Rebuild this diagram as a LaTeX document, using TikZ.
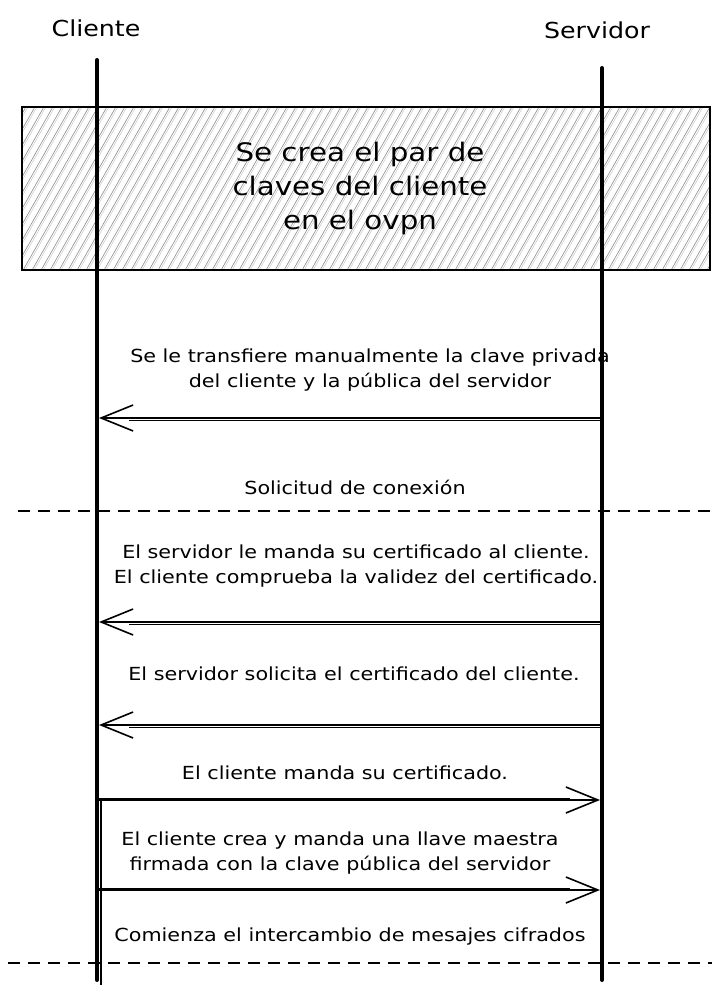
\documentclass[tikz,border=0pt]{standalone}
\usepackage{fontspec}
\setmainfont[FakeStretch=1.15]{DejaVu Sans}
\usetikzlibrary{arrows.meta,calc}
\begin{document}
\begin{tikzpicture}[x=1pt,y=-1pt,
  lifeline/.style={line width=4pt,line cap=round},
  thinline/.style={line width=0.9pt},
  msgarrow/.style={line width=1.6pt,-{Straight Barb[length=32pt,width=26pt,line width=1.6pt]}},
  sep/.style={line width=2pt,dash pattern=on 12pt off 8pt},
  msg/.style={font=\fontsize{18}{25.5}\selectfont,align=center,inner sep=0pt},
  actor/.style={font=\fontsize{22}{26}\selectfont,inner sep=0pt},
  boxtext/.style={font=\fontsize{25.5}{34}\selectfont,align=center,inner sep=0pt},
  hatch/.style={draw=black!45,line width=0.6pt}]
\useasboundingbox (0,0) rectangle (722,990);

% actors
\node[actor] (cli) at (96,28) {Cliente};
\node[actor] (srv) at (597,30) {Servidor};

% hatched box
\begin{scope}
  \clip (22,107) rectangle (710,270);
  \foreach \i in {0,9,...,918} {
    \draw[hatch] (\i-95,272) -- (\i,105);
    \draw[hatch,black!22,line width=0.5pt] (\i-93,272) -- (\i+2,105);
  }
\end{scope}
\node[draw,line width=2.2pt,minimum width=688pt,minimum height=163pt,inner sep=0pt] (box) at (366,188.5) {};
\node[boxtext] (boxt) at (360,188) {Se crea el par de\\claves del cliente\\en el ovpn};

% lifelines
\coordinate (c0) at (97,60);
\coordinate (cE) at (97,980);
\coordinate (s0) at (602,68);
\coordinate (sE) at (602,980);
\draw[lifeline] (c0) -- (cE);
\draw[lifeline] (s0) -- (sE);
\coordinate (c0b) at (101,800);
\coordinate (cEb) at (101,985);
\draw[thinline,line width=1.4pt] (c0b) -- (cEb);

% message coordinates
\coordinate (s1) at (600,418); \coordinate (c1) at (99,418);
\coordinate (s2) at (600,622); \coordinate (c2) at (99,622);
\coordinate (s3) at (600,725); \coordinate (c3) at (99,725);
\coordinate (c4) at (99,800); \coordinate (s4) at (600,800);
\coordinate (c5) at (99,890); \coordinate (s5) at (600,890);

% messages
\node[msg] (t1) at (370,370) {Se le transfiere manualmente la clave privada\\del cliente y la pública del servidor};
\draw[msgarrow] (s1) -- (c1);
\draw[thinline] ($(s1)+(0,2)$) -- ($(c1)+(30,2)$);

\node[msg] (t0) at (355,487) {Solicitud de conexión};
\coordinate (d1a) at (18,511); \coordinate (d1b) at (712,511);
\draw[sep] (d1a) -- (d1b);

\node[msg] (t2) at (356,566) {El servidor le manda su certificado al cliente.\\El cliente comprueba la validez del certificado.};
\draw[msgarrow] (s2) -- (c2);
\draw[thinline] ($(s2)+(0,2)$) -- ($(c2)+(30,2)$);

\node[msg] (t3) at (354,674) {El servidor solicita el certificado del cliente.};
\draw[msgarrow] (s3) -- (c3);
\draw[thinline] ($(s3)+(0,2)$) -- ($(c3)+(30,2)$);

\node[msg] (t4) at (345,773) {El cliente manda su certificado.};
\draw[msgarrow] (c4) -- (s4);
\draw[thinline] ($(c4)+(0,-2)$) -- ($(s4)+(-30,-2)$);

\node[msg] (t5) at (340,853) {El cliente crea y manda una llave maestra\\firmada con la clave pública del servidor};
\draw[msgarrow] (c5) -- (s5);
\draw[thinline] ($(c5)+(0,-2)$) -- ($(s5)+(-30,-2)$);

\node[msg] (t6) at (350,937) {Comienza el intercambio de mesajes cifrados};
\coordinate (d2a) at (8,963); \coordinate (d2b) at (712,963);
\draw[sep] (d2a) -- (d2b);
\end{tikzpicture}
\end{document}
